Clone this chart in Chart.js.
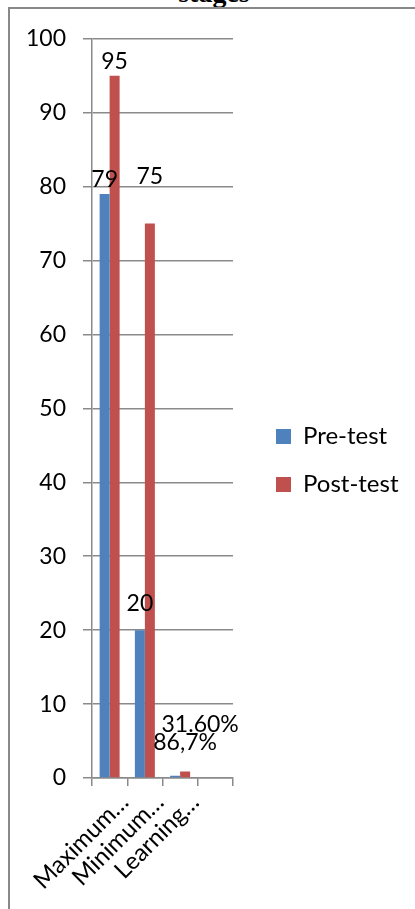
<!DOCTYPE html>
<html><head><meta charset="utf-8">
<script src="https://cdn.jsdelivr.net/npm/chart.js@4"></script>
<style>
html,body{margin:0;padding:0;background:#fff;overflow:hidden;width:415px;height:909px;}
#title{position:absolute;left:0;width:428px;text-align:center;top:-21px;font:bold 28px "Liberation Serif",serif;line-height:28px;color:#000;white-space:nowrap;}
#frame{position:absolute;left:8px;top:7px;width:430px;height:930px;border-left:2px solid #888;border-top:2px solid #888;}
#wrap{position:absolute;left:10px;top:8px;width:405px;height:901px;}
</style></head>
<body>
<div id="title">stages</div>
<div id="frame"></div>
<div id="wrap"><canvas id="c"></canvas></div>
<script>
const categories = ["Maximum…", "Minimum…", "Learning…", ""];
const seriesNames = ["Pre-test", "Post-test"];
const preTest = [79, 20, 0.316, null];
const postTest = [95, 75, 0.867, null];
const preLabels = ["79", "20", "31.60%", ""];
const postLabels = ["95", "75", "86,7%", ""];
const yTicks = [0, 10, 20, 30, 40, 50, 60, 70, 80, 90, 100];

const BLUE = "#4F81BD", RED = "#C0504D", GRID = "#8a8a8a";
const FAMILY = "Lato, Carlito, Calibri, sans-serif";
const FONT = {family: FAMILY, size: 23};
const FONT_X = {family: FAMILY, size: 24};
const FONT_LEG = {family: FAMILY, size: 24};

const labelPlugin = {
  id: "barLabels",
  afterDatasetsDraw(chart, args, opts) {
    const ctx = chart.ctx;
    ctx.save();
    ctx.font = FONT.size + "px " + FONT.family;
    ctx.fillStyle = "#000";
    ctx.textAlign = "center";
    ctx.textBaseline = "middle";
    const texts = [preLabels, postLabels];
    chart.data.datasets.forEach((ds, di) => {
      chart.getDatasetMeta(di).data.forEach((el, i) => {
        const t = texts[di][i];
        if (!t) return;
        const o = opts.offsets[di][i];
        ctx.fillText(t, el.x + o[0], el.y + o[1]);
      });
    });
    ctx.restore();
  }
};

const legendPlace = {
  id: "legendPlace",
  beforeLayout(chart, args, opts) {
    const lg = chart.legend;
    if (lg && !lg._wrapped) {
      const f = lg.fit.bind(lg);
      lg.fit = function () { f(); this.width = opts.width; };
      lg._wrapped = true;
    }
  },
  afterLayout(chart, args, opts) {
    const lg = chart.legend;
    lg.left += opts.dx; lg.right += opts.dx;
    lg.top += opts.dy; lg.bottom += opts.dy;
  }
};

new Chart(document.getElementById("c"), {
  type: "bar",
  data: {
    labels: categories,
    datasets: [
      {label: seriesNames[0], data: preTest, backgroundColor: BLUE, borderWidth: 0},
      {label: seriesNames[1], data: postTest, backgroundColor: RED, borderWidth: 0}
    ]
  },
  options: {
    responsive: true,
    maintainAspectRatio: false,
    animation: false,
    categoryPercentage: 0.567,
    barPercentage: 1.0,
    layout: {padding: {top: 29, left: 0, right: 0, bottom: 0}},
    plugins: {
      title: {display: false},
      tooltip: {enabled: false},
      legend: {
        display: true,
        position: "right",
        align: "center",
        labels: {font: FONT_LEG, color: "#000", boxWidth: 15, boxHeight: 15, padding: 24}
      },
      legendPlace: {width: 182, dx: 19, dy: -12.5},
      barLabels: {offsets: [[[0, -14], [0, -27], [25, -51]], [[0, -14], [0, -47], [0, -29]]]}
    },
    scales: {
      x: {
        offset: true,
        grid: {display: true, drawOnChartArea: false, drawTicks: true, tickLength: 8, color: GRID, lineWidth: 1.5, offset: true},
        border: {display: true, color: GRID, width: 1.5},
        ticks: {font: FONT_X, color: "#000", maxRotation: 45, minRotation: 45, autoSkip: false, padding: 2, labelOffset: 15},
        afterFit(s) { s.height = 131; }
      },
      y: {
        min: 0, max: 100,
        afterBuildTicks(s) { s.ticks = yTicks.map(v => ({value: v})); },
        grid: {color: GRID, lineWidth: 1.5, tickLength: 9, drawTicks: true},
        border: {display: true, color: GRID, width: 1.5},
        ticks: {font: FONT, color: "#000", padding: 17},
        afterFit(s) { s.width = 82; }
      }
    }
  },
  plugins: [labelPlugin, legendPlace]
});
</script>
</body></html>
